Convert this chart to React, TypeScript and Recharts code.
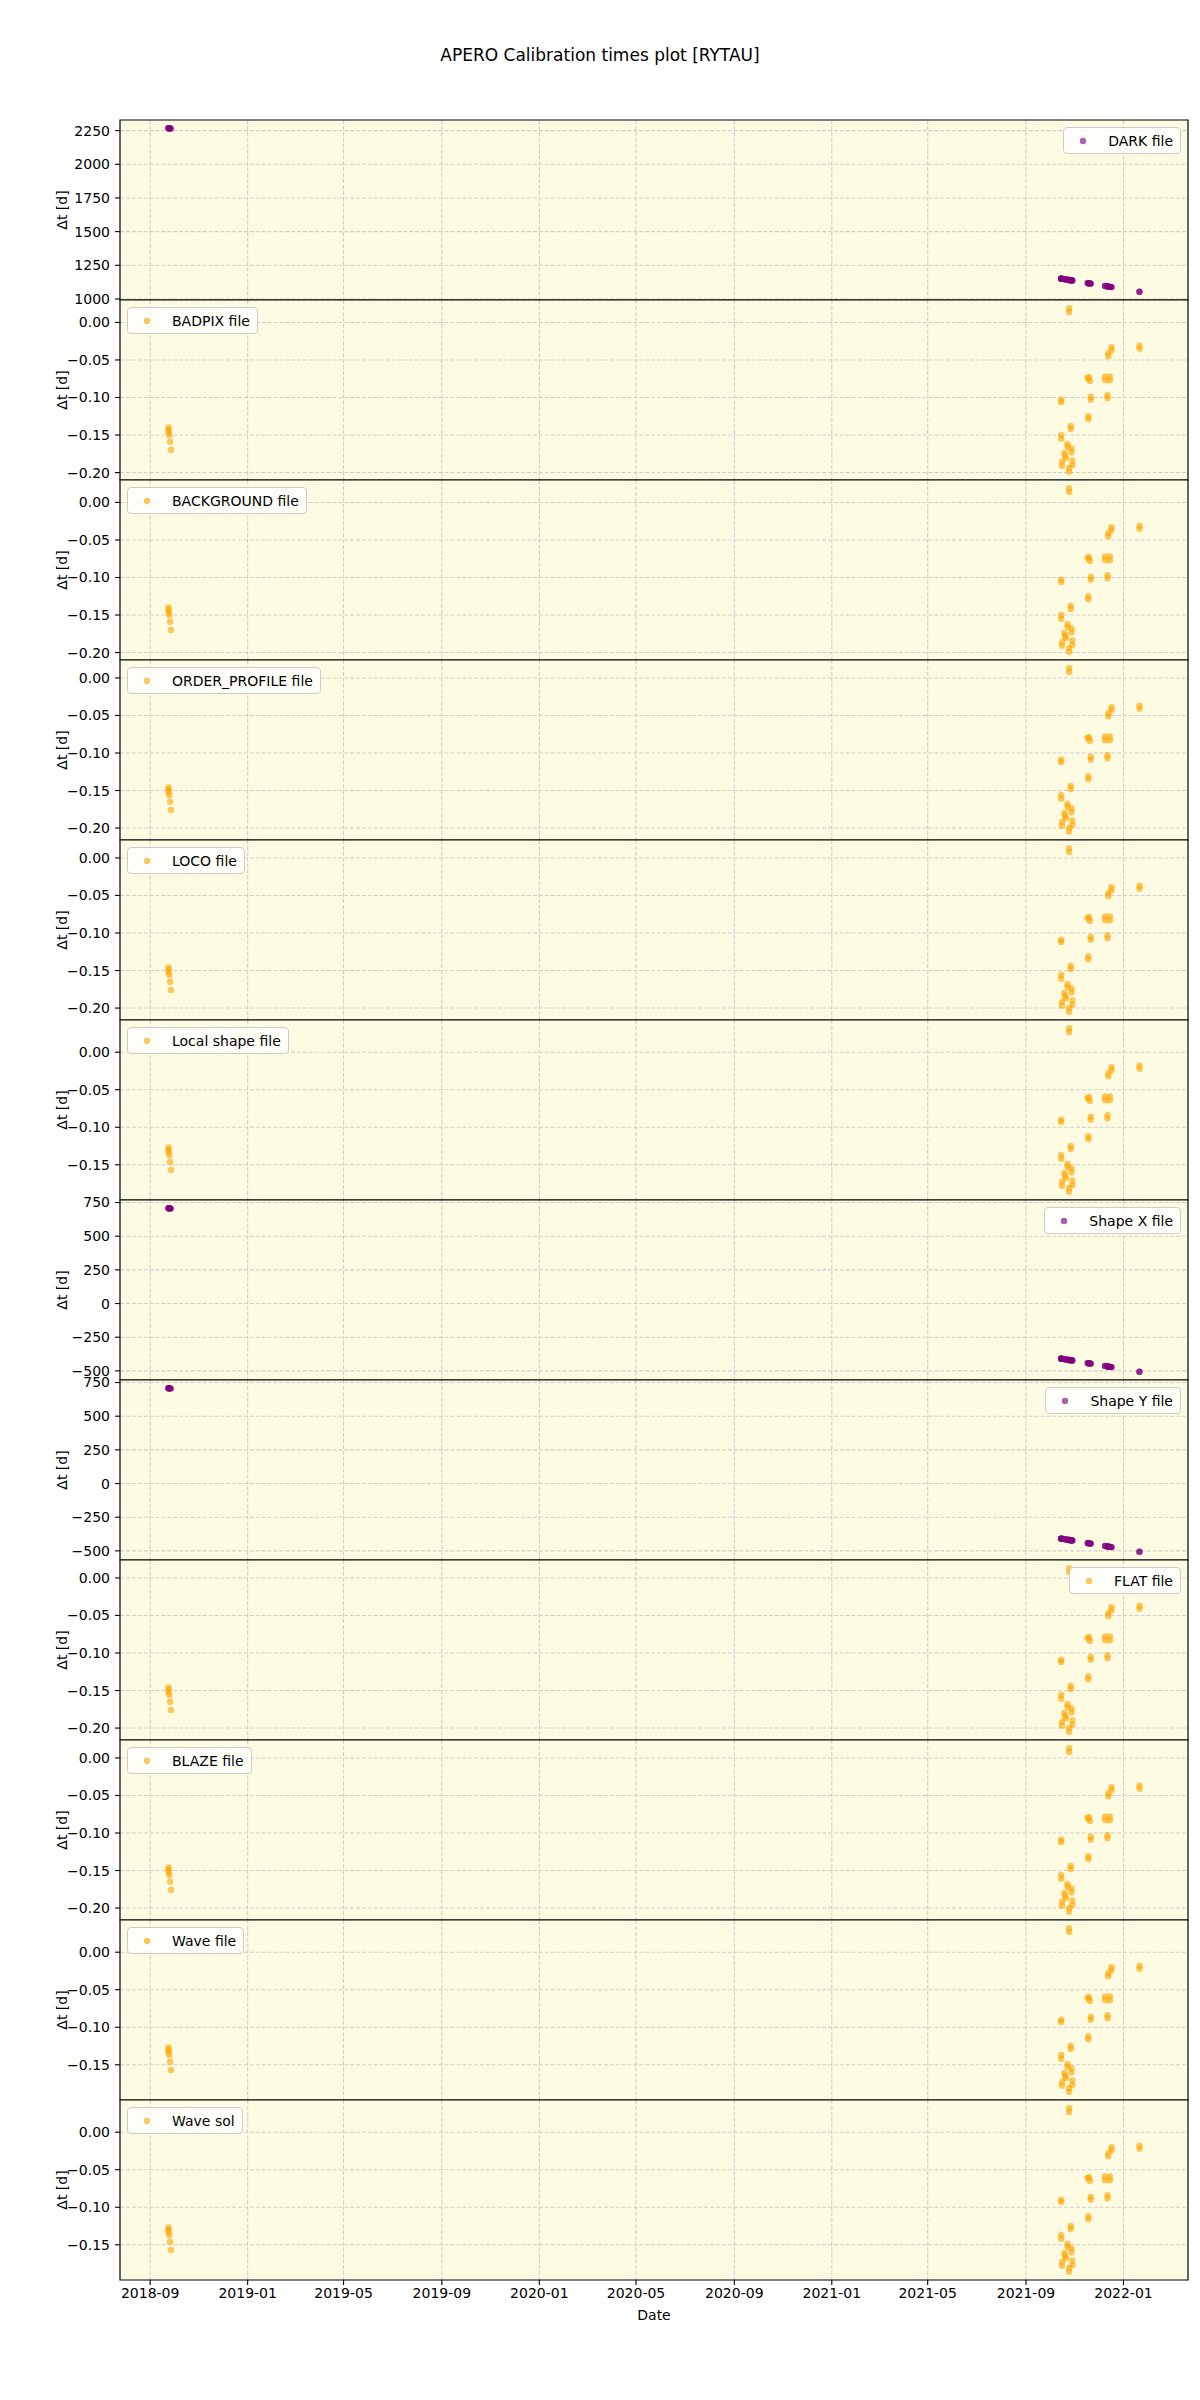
import React from 'react';
import { ScatterChart, Scatter, XAxis, YAxis, CartesianGrid, ReferenceArea } from 'recharts';

// ---------------- data ----------------
const obsDates = [
  '2018-09-24', '2018-09-24', '2018-09-24', '2018-09-25', '2018-09-26', '2018-09-27',
  '2021-10-15', '2021-10-15', '2021-10-15', '2021-10-15', '2021-10-16', '2021-10-16',
  '2021-10-19', '2021-10-20', '2021-10-21', '2021-10-23', '2021-10-23', '2021-10-25',
  '2021-10-25', '2021-10-25', '2021-10-25', '2021-10-27', '2021-10-27', '2021-10-28',
  '2021-10-28', '2021-10-29', '2021-10-29', '2021-11-17', '2021-11-18', '2021-11-18',
  '2021-11-19', '2021-11-20', '2021-11-21', '2021-11-21', '2021-12-09', '2021-12-09',
  '2021-12-12', '2021-12-12', '2021-12-13', '2021-12-13', '2021-12-15', '2021-12-15',
  '2021-12-17', '2021-12-17', '2022-01-21', '2022-01-21',
];

const darkValues = [
  2268, 2268, 2268, 2267, 2266, 2265,
  1151, 1151, 1151, 1151, 1150, 1150, 1147, 1146, 1145, 1143, 1143, 1141,
  1141, 1141, 1141, 1139, 1139, 1138, 1138, 1137, 1137, 1118, 1117, 1117,
  1116, 1115, 1114, 1114, 1096, 1096, 1093, 1093, 1092, 1092, 1090, 1090,
  1088, 1088, 1053, 1053,
];

const badpixValues = [
  -0.140, -0.143, -0.146, -0.150, -0.159, -0.170,
  -0.103, -0.106, -0.150, -0.155, -0.186, -0.191, -0.174, -0.178, -0.181, -0.162, -0.166, 0.014,
  0.019, -0.194, -0.199, -0.138, -0.142, -0.168, -0.173, -0.184, -0.190, -0.074, -0.125, -0.129,
  -0.073, -0.078, -0.099, -0.103, -0.072, -0.077, -0.097, -0.101, -0.041, -0.045, -0.072, -0.077,
  -0.033, -0.037, -0.031, -0.035,
];

const backgroundValues = [
  -0.140, -0.143, -0.146, -0.150, -0.159, -0.170,
  -0.103, -0.106, -0.150, -0.155, -0.186, -0.191, -0.174, -0.178, -0.181, -0.162, -0.166, 0.014,
  0.019, -0.194, -0.199, -0.138, -0.142, -0.168, -0.173, -0.184, -0.190, -0.074, -0.125, -0.129,
  -0.073, -0.078, -0.099, -0.103, -0.072, -0.077, -0.097, -0.101, -0.041, -0.045, -0.072, -0.077,
  -0.033, -0.037, -0.031, -0.035,
];

const orderProfileValues = [
  -0.146, -0.149, -0.152, -0.156, -0.165, -0.176,
  -0.109, -0.112, -0.156, -0.161, -0.192, -0.197, -0.180, -0.184, -0.187, -0.168, -0.172, 0.008,
  0.013, -0.200, -0.205, -0.144, -0.148, -0.174, -0.179, -0.190, -0.196, -0.080, -0.131, -0.135,
  -0.079, -0.084, -0.105, -0.109, -0.078, -0.083, -0.103, -0.107, -0.047, -0.051, -0.078, -0.083,
  -0.039, -0.043, -0.037, -0.041,
];

const locoValues = [
  -0.146, -0.149, -0.152, -0.156, -0.165, -0.176,
  -0.109, -0.112, -0.156, -0.161, -0.192, -0.197, -0.180, -0.184, -0.187, -0.168, -0.172, 0.008,
  0.013, -0.200, -0.205, -0.144, -0.148, -0.174, -0.179, -0.190, -0.196, -0.080, -0.131, -0.135,
  -0.079, -0.084, -0.105, -0.109, -0.078, -0.083, -0.103, -0.107, -0.047, -0.051, -0.078, -0.083,
  -0.039, -0.043, -0.037, -0.041,
];

const localShapeValues = [
  -0.127, -0.130, -0.133, -0.137, -0.146, -0.157,
  -0.090, -0.093, -0.137, -0.142, -0.173, -0.178, -0.161, -0.165, -0.168, -0.149, -0.153, 0.027,
  0.032, -0.181, -0.186, -0.125, -0.129, -0.155, -0.160, -0.171, -0.177, -0.061, -0.112, -0.116,
  -0.060, -0.065, -0.086, -0.090, -0.059, -0.064, -0.084, -0.088, -0.028, -0.032, -0.059, -0.064,
  -0.020, -0.024, -0.018, -0.022,
];

const shapeXValues = [
  708, 708, 708, 707, 706, 705,
  -409, -409, -409, -409, -410, -410, -413, -414, -415, -417, -417, -419,
  -419, -419, -419, -421, -421, -422, -422, -423, -423, -442, -443, -443,
  -444, -445, -446, -446, -464, -464, -467, -467, -468, -468, -470, -470,
  -472, -472, -507, -507,
];

const shapeYValues = [
  708, 708, 708, 707, 706, 705,
  -409, -409, -409, -409, -410, -410, -413, -414, -415, -417, -417, -419,
  -419, -419, -419, -421, -421, -422, -422, -423, -423, -442, -443, -443,
  -444, -445, -446, -446, -464, -464, -467, -467, -468, -468, -470, -470,
  -472, -472, -507, -507,
];

const flatValues = [
  -0.146, -0.149, -0.152, -0.156, -0.165, -0.176,
  -0.109, -0.112, -0.156, -0.161, -0.192, -0.197, -0.180, -0.184, -0.187, -0.168, -0.172, 0.008,
  0.013, -0.200, -0.205, -0.144, -0.148, -0.174, -0.179, -0.190, -0.196, -0.080, -0.131, -0.135,
  -0.079, -0.084, -0.105, -0.109, -0.078, -0.083, -0.103, -0.107, -0.047, -0.051, -0.078, -0.083,
  -0.039, -0.043, -0.037, -0.041,
];

const blazeValues = [
  -0.146, -0.149, -0.152, -0.156, -0.165, -0.176,
  -0.109, -0.112, -0.156, -0.161, -0.192, -0.197, -0.180, -0.184, -0.187, -0.168, -0.172, 0.008,
  0.013, -0.200, -0.205, -0.144, -0.148, -0.174, -0.179, -0.190, -0.196, -0.080, -0.131, -0.135,
  -0.079, -0.084, -0.105, -0.109, -0.078, -0.083, -0.103, -0.107, -0.047, -0.051, -0.078, -0.083,
  -0.039, -0.043, -0.037, -0.041,
];

const waveFileValues = [
  -0.127, -0.130, -0.133, -0.137, -0.146, -0.157,
  -0.090, -0.093, -0.137, -0.142, -0.173, -0.178, -0.161, -0.165, -0.168, -0.149, -0.153, 0.027,
  0.032, -0.181, -0.186, -0.125, -0.129, -0.155, -0.160, -0.171, -0.177, -0.061, -0.112, -0.116,
  -0.060, -0.065, -0.086, -0.090, -0.059, -0.064, -0.084, -0.088, -0.028, -0.032, -0.059, -0.064,
  -0.020, -0.024, -0.018, -0.022,
];

const waveSolValues = [
  -0.127, -0.130, -0.133, -0.137, -0.146, -0.157,
  -0.090, -0.093, -0.137, -0.142, -0.173, -0.178, -0.161, -0.165, -0.168, -0.149, -0.153, 0.027,
  0.032, -0.181, -0.186, -0.125, -0.129, -0.155, -0.160, -0.171, -0.177, -0.061, -0.112, -0.116,
  -0.060, -0.065, -0.086, -0.090, -0.059, -0.064, -0.084, -0.088, -0.028, -0.032, -0.059, -0.064,
  -0.020, -0.024, -0.018, -0.022,
];

const xTickLabels = [
  '2018-09', '2019-01', '2019-05', '2019-09', '2020-01', '2020-05',
  '2020-09', '2021-01', '2021-05', '2021-09', '2022-01',
];

const darkTicks = [1000, 1250, 1500, 1750, 2000, 2250];
const shapeTicks = [-500, -250, 0, 250, 500, 750];
const fileTicks = [-0.2, -0.15, -0.1, -0.05, 0];
const shortFileTicks = [-0.15, -0.1, -0.05, 0];

const TITLE = 'APERO Calibration times plot [RYTAU]';

// ---------------- style ----------------
const PURPLE = '#800080';
const ORANGE = '#FFA500';
const BG = '#FDFCE3';
const GRID = '#cfcfcf';
const FONT = '"DejaVu Sans", sans-serif';
const DOT_R = 3.2;
const DOT_ALPHA = 0.62;

const panels = [
  { name: 'DARK file', values: darkValues, color: PURPLE, ticks: darkTicks, dec: 0, side: 'right' },
  { name: 'BADPIX file', values: badpixValues, color: ORANGE, ticks: fileTicks, dec: 2, side: 'left' },
  { name: 'BACKGROUND file', values: backgroundValues, color: ORANGE, ticks: fileTicks, dec: 2, side: 'left' },
  { name: 'ORDER_PROFILE file', values: orderProfileValues, color: ORANGE, ticks: fileTicks, dec: 2, side: 'left' },
  { name: 'LOCO file', values: locoValues, color: ORANGE, ticks: fileTicks, dec: 2, side: 'left' },
  { name: 'Local shape file', values: localShapeValues, color: ORANGE, ticks: shortFileTicks, dec: 2, side: 'left' },
  { name: 'Shape X file', values: shapeXValues, color: PURPLE, ticks: shapeTicks, dec: 0, side: 'right' },
  { name: 'Shape Y file', values: shapeYValues, color: PURPLE, ticks: shapeTicks, dec: 0, side: 'right' },
  { name: 'FLAT file', values: flatValues, color: ORANGE, ticks: fileTicks, dec: 2, side: 'right' },
  { name: 'BLAZE file', values: blazeValues, color: ORANGE, ticks: fileTicks, dec: 2, side: 'left' },
  { name: 'Wave file', values: waveFileValues, color: ORANGE, ticks: shortFileTicks, dec: 2, side: 'left' },
  { name: 'Wave sol', values: waveSolValues, color: ORANGE, ticks: shortFileTicks, dec: 2, side: 'left' },
];

const W = 1200;
const PLOT_LEFT = 120;
const PLOT_RIGHT = 1188;
const PLOT_TOP = 120;
const PANEL_H = 180;
const PAD = 20;
const XAXIS_H = 60;

const xTimes = obsDates.map((d) => Date.parse(d + 'T00:00:00Z'));
const xTicks = xTickLabels.map((s) => Date.parse(s + '-01T00:00:00Z'));
const xMin = Math.min(...xTimes);
const xMax = Math.max(...xTimes);
const xDomain: [number, number] = [xMin - 0.05 * (xMax - xMin), xMax + 0.05 * (xMax - xMin)];

const fmtX = (v: number) => {
  const d = new Date(v);
  return `${d.getUTCFullYear()}-${String(d.getUTCMonth() + 1).padStart(2, '0')}`;
};

const fmtY = (dec: number) => (v: number) => {
  const s = dec > 0 ? Math.abs(v).toFixed(dec) : String(Math.abs(Math.round(v)));
  return (v < 0 ? '\u2212' : '') + s;
};

const makeDot = (color: string) => (props: any) => {
  const { cx, cy } = props;
  if (cx == null || cy == null) return <g />;
  return <circle cx={cx} cy={cy} r={DOT_R} fill={color} fillOpacity={DOT_ALPHA} />;
};

function Panel({ p, index }: { p: any; index: number }) {
  const isLast = index === panels.length - 1;
  const data = p.values.map((v: number, i: number) => ({ x: xTimes[i], y: v }));
  const yMin = Math.min(...p.values);
  const yMax = Math.max(...p.values);
  const yDomain: [number, number] = [yMin - 0.05 * (yMax - yMin), yMax + 0.05 * (yMax - yMin)];
  const height = PAD + PANEL_H + (isLast ? XAXIS_H : PAD);
  const top = PLOT_TOP + index * PANEL_H - PAD;
  const tickStyle = { fontSize: 14, fill: '#000', fontFamily: FONT };
  return (
    <div style={{ position: 'absolute', left: 0, top, width: W, height }}>
      <ScatterChart
        width={W}
        height={height}
        margin={{ top: PAD, right: W - PLOT_RIGHT, bottom: isLast ? 0 : PAD, left: 0 }}
      >
        <CartesianGrid
          stroke={GRID}
          strokeDasharray="4.1 1.8"
          strokeWidth={1.1}
          fill={BG}
          fillOpacity={1}
          verticalValues={xTicks}
          horizontalValues={p.ticks}
        />
        <XAxis
          type="number"
          dataKey="x"
          domain={xDomain}
          allowDataOverflow
          ticks={xTicks}
          tickFormatter={fmtX}
          hide={!isLast}
          height={isLast ? XAXIS_H : 0}
          axisLine={false}
          tickLine={{ stroke: '#000', strokeWidth: 1.1 }}
          tickSize={5}
          tickMargin={3}
          tick={tickStyle}
          interval={0}
          label={isLast ? { value: 'Date', position: 'insideBottom', offset: 20, fill: '#000', fontSize: 14 } : undefined}
        />
        <YAxis
          type="number"
          dataKey="y"
          domain={yDomain}
          allowDataOverflow
          ticks={p.ticks}
          tickFormatter={fmtY(p.dec)}
          width={PLOT_LEFT}
          axisLine={false}
          tickLine={{ stroke: '#000', strokeWidth: 1.1 }}
          tickSize={5}
          tickMargin={5}
          tick={tickStyle}
          interval={0}
          label={{ value: '\u0394t [d]', angle: -90, position: 'center', dx: 2, fill: '#000', fontSize: 14 }}
        />
        <ReferenceArea
          x1={xDomain[0]}
          x2={xDomain[1]}
          y1={yDomain[0]}
          y2={yDomain[1]}
          fill="none"
          fillOpacity={0}
          stroke="#000"
          strokeWidth={1.2}
          strokeOpacity={1}
          ifOverflow="visible"
        />
        <Scatter data={data} shape={makeDot(p.color)} isAnimationActive={false} />
      </ScatterChart>
    </div>
  );
}

function Legend({ p, index }: { p: any; index: number }) {
  const top = PLOT_TOP + index * PANEL_H + 7;
  const pos: any = p.side === 'left' ? { left: PLOT_LEFT + 7 } : { right: W - PLOT_RIGHT + 7 };
  return (
    <div
      style={{
        position: 'absolute',
        top,
        ...pos,
        height: 27,
        boxSizing: 'border-box',
        display: 'flex',
        alignItems: 'center',
        background: 'rgba(255,255,255,0.8)',
        border: '1px solid #cccccc',
        borderRadius: 4,
        fontSize: 14,
        paddingRight: 7,
        color: '#000',
        whiteSpace: 'nowrap',
      }}
    >
      <svg width={44} height={24} style={{ display: 'block' }}>
        <circle cx={19} cy={12} r={DOT_R} fill={p.color} fillOpacity={DOT_ALPHA} />
      </svg>
      <span>{p.name}</span>
    </div>
  );
}

export default function App() {
  return (
    <div
      style={{
        position: 'absolute',
        left: 0,
        top: 0,
        width: W,
        height: 2400,
        background: '#fff',
        fontFamily: FONT,
        overflow: 'hidden',
      }}
    >
      <div
        style={{
          position: 'absolute',
          top: 45,
          left: 0,
          width: W,
          textAlign: 'center',
          fontSize: 17,
          color: '#000',
        }}
      >
        {TITLE}
      </div>
      {panels.map((p, i) => (
        <Panel key={p.name} p={p} index={i} />
      ))}
      {panels.map((p, i) => (
        <Legend key={'l' + p.name} p={p} index={i} />
      ))}
    </div>
  );
}
